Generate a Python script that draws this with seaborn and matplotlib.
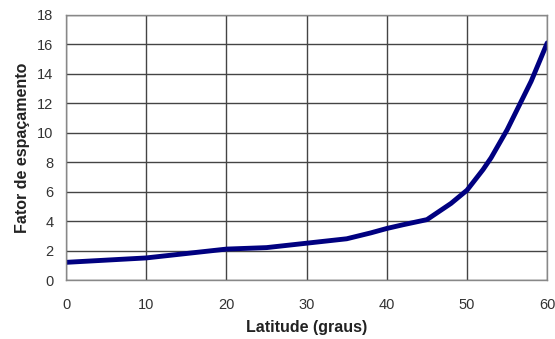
import matplotlib
matplotlib.use("Agg")
import matplotlib.pyplot as plt
import seaborn as sns
import pandas as pd

latitude = [0, 5, 10, 15, 20, 25, 30, 35, 38, 40, 42, 45, 48, 50, 52, 53, 55, 57, 58, 60]
fator = [1.2, 1.35, 1.5, 1.8, 2.1, 2.2, 2.5, 2.8, 3.2, 3.5, 3.75, 4.1, 5.2, 6.1, 7.5, 8.3, 10.2, 12.4, 13.5, 16.1]

df = pd.DataFrame({"Latitude": latitude, "Fator": fator})

sns.set_style("white")
plt.rcParams["font.family"] = ["Liberation Sans", "DejaVu Sans"]

fig = plt.figure(figsize=(5.55, 3.39), dpi=100)
ax = fig.add_axes([0.119, 0.174, 0.867, 0.782])
sns.lineplot(data=df, x="Latitude", y="Fator", color="#000080", linewidth=3.5, ax=ax)

ax.set_xlim(0, 60)
ax.set_ylim(0, 18)
ax.set_xticks(range(0, 61, 10))
ax.set_yticks(range(0, 19, 2))
ax.grid(True, color="#444444", linewidth=1.0)
for s in ax.spines.values():
    s.set_color("#888888")
    s.set_linewidth(1.0)
ax.tick_params(axis="both", colors="#555555", labelcolor="#333333", labelsize=10.5,
               length=4, width=1, direction="out")
ax.tick_params(axis="x", pad=9)
ax.tick_params(axis="y", pad=5)
ax.set_xlabel("Latitude (graus)", fontsize=11.5, fontweight="bold", color="#222222")
ax.set_ylabel("Fator de espaçamento", fontsize=11.5, fontweight="bold", color="#222222")
ax.xaxis.labelpad = 6
ax.yaxis.labelpad = 5

fig.savefig("out.png", dpi=100)
